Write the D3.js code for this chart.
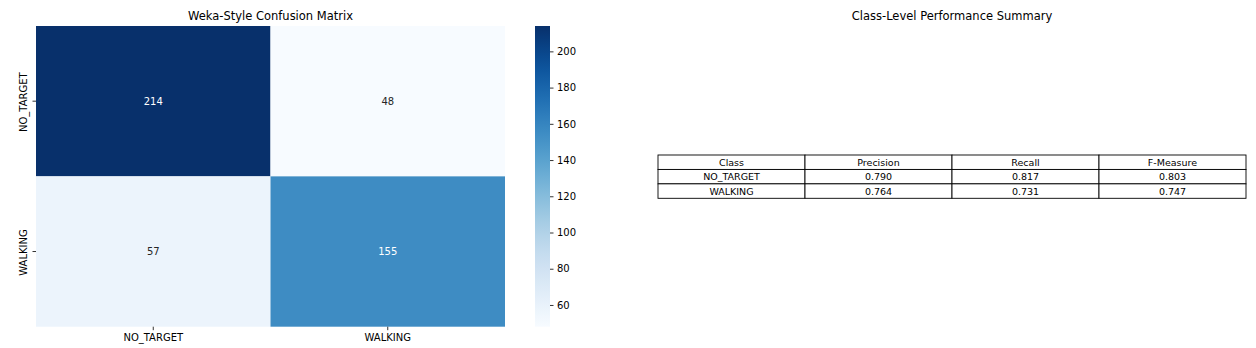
<!DOCTYPE html>
<html><head><meta charset="utf-8">
<script src="https://cdn.jsdelivr.net/npm/d3@7"></script>
<style>body{margin:0;background:#fff}svg{display:block}text{font-family:"DejaVu Sans",sans-serif;fill:#000}</style>
</head><body>
<script>
const classes = ["NO_TARGET", "WALKING"];
const matrix = [[214, 48], [57, 155]];
const cbarTicks = [60, 80, 100, 120, 140, 160, 180, 200];
const tableHeader = ["Class", "Precision", "Recall", "F-Measure"];
const precision = ["0.790", "0.764"];
const recall = ["0.817", "0.731"];
const fmeasure = ["0.803", "0.747"];

const W = 1256, H = 348;
const svg = d3.select("body").append("svg").attr("width", W).attr("height", H);

// Heatmap
const hm = {x0: 36, x1: 505, y0: 26, y1: 326.7};
const x = d3.scaleBand().domain(classes).range([hm.x0, hm.x1]);
const y = d3.scaleBand().domain(classes).range([hm.y0, hm.y1]);
const vals = matrix.flat();
const vmin = d3.min(vals), vmax = d3.max(vals);
const color = d3.scaleSequential(d3.interpolateBlues).domain([vmin, vmax]);

const cells = [];
matrix.forEach((row, i) => row.forEach((v, j) => cells.push({r: classes[i], c: classes[j], v})));
svg.append("g").selectAll("rect").data(cells).join("rect")
  .attr("x", d => x(d.c)).attr("y", d => y(d.r))
  .attr("width", x.bandwidth()).attr("height", y.bandwidth())
  .attr("fill", d => color(d.v));
svg.append("g").selectAll("text").data(cells).join("text")
  .attr("x", d => x(d.c) + x.bandwidth() / 2).attr("y", d => y(d.r) + y.bandwidth() / 2)
  .attr("text-anchor", "middle").attr("dominant-baseline", "central")
  .style("font-size", "10px")
  .style("fill", d => (d.v - vmin) / (vmax - vmin) > 0.5 ? "#fff" : "#262626")
  .text(d => d.v);

const xAxis = svg.append("g").attr("transform", `translate(0,${hm.y1})`)
  .call(d3.axisBottom(x).tickSize(3.5).tickPadding(3.5));
xAxis.select(".domain").remove();
xAxis.selectAll("text").style("font-size", "10px").style("fill", "#000");
xAxis.selectAll("line").attr("stroke", "#333");

const yAxis = svg.append("g").attr("transform", `translate(${hm.x0},0)`)
  .call(d3.axisLeft(y).tickSize(3.5).tickPadding(3.5));
yAxis.select(".domain").remove();
yAxis.selectAll("line").attr("stroke", "#333");
yAxis.selectAll("text").style("font-size", "10px").style("fill", "#000")
  .attr("text-anchor", "middle").attr("dy", 0)
  .attr("dominant-baseline", "auto")
  .attr("transform", "rotate(-90)")
  .attr("x", -1).attr("y", -9.5);

svg.append("text").attr("x", (hm.x0 + hm.x1) / 2).attr("y", 20)
  .attr("text-anchor", "middle").style("font-size", "11.5px").text("Weka-Style Confusion Matrix");

// Colorbar
const cb = {x0: 535, x1: 550, y0: 26, y1: 326.7};
const cy = d3.scaleLinear().domain([vmin, vmax]).range([cb.y1, cb.y0]);
const defs = svg.append("defs");
const grad = defs.append("linearGradient").attr("id", "cbg").attr("x1", 0).attr("y1", 1).attr("x2", 0).attr("y2", 0);
d3.range(0, 1.0001, 0.05).forEach(t => grad.append("stop").attr("offset", t).attr("stop-color", d3.interpolateBlues(t)));
svg.append("rect").attr("x", cb.x0).attr("y", cb.y0).attr("width", cb.x1 - cb.x0).attr("height", cb.y1 - cb.y0).attr("fill", "url(#cbg)");
const cAxis = svg.append("g").attr("transform", `translate(${cb.x1},0)`)
  .call(d3.axisRight(cy).tickValues(cbarTicks).tickSize(3.5).tickPadding(3.5));
cAxis.select(".domain").remove();
cAxis.selectAll("line").attr("stroke", "#333");
cAxis.selectAll("text").style("font-size", "10px").style("fill", "#000");

// Table
svg.append("text").attr("x", 952).attr("y", 20).attr("text-anchor", "middle")
  .style("font-size", "11.5px").text("Class-Level Performance Summary");
const rows = [tableHeader].concat(classes.map((c, i) => [c, precision[i], recall[i], fmeasure[i]]));
const tx = d3.scaleBand().domain(d3.range(4)).range([658, 1246]);
const ty = d3.scaleBand().domain(d3.range(rows.length)).range([155, 198.3]);
const tcells = [];
rows.forEach((r, i) => r.forEach((t, j) => tcells.push({i, j, t})));
const tg = svg.append("g");
tg.selectAll("rect").data(tcells).join("rect")
  .attr("x", d => tx(d.j)).attr("y", d => ty(d.i))
  .attr("width", tx.bandwidth()).attr("height", ty.bandwidth())
  .attr("fill", "#fff").attr("stroke", "#000").attr("stroke-width", 0.9);
tg.selectAll("text").data(tcells).join("text")
  .attr("x", d => tx(d.j) + tx.bandwidth() / 2).attr("y", d => ty(d.i) + ty.bandwidth() / 2)
  .attr("text-anchor", "middle").attr("dominant-baseline", "central")
  .style("font-size", "9.5px").text(d => d.t);
</script>
</body></html>
